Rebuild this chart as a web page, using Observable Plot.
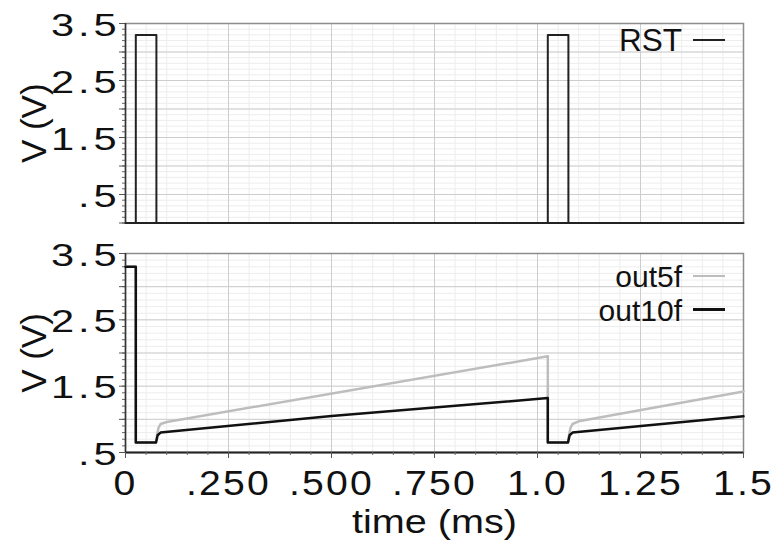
<!DOCTYPE html>
<html><head><meta charset="utf-8">
<script src="https://cdn.jsdelivr.net/npm/d3@7"></script>
<script src="https://cdn.jsdelivr.net/npm/@observablehq/plot@0.6"></script>
<style>
html,body{margin:0;padding:0;background:#fff;}
#wrap{position:relative;width:778px;height:544px;overflow:hidden;font-family:"Liberation Sans",Arial,sans-serif;}
#wrap svg{display:block;}
#wrap svg text{font-family:"Liberation Sans",Arial,sans-serif;}
.leg{position:absolute;white-space:nowrap;line-height:1;color:#111;text-align:right;}
.sw{position:absolute;}
</style></head><body><div id="wrap"></div>
<script>
// ---- data ----
const rstTime = [0, 0.025, 0.025, 0.075, 0.075, 1.025, 1.025, 1.075, 1.075, 1.5];
const rstVolt = [0, 0, 3.3, 3.3, 0, 0, 3.3, 3.3, 0, 0];

const out5fTime = [0, 0.025, 0.025, 0.074, 0.077, 0.08, 0.085, 0.1, 1.025, 1.025, 1.074, 1.077, 1.08, 1.085, 1.1, 1.5];
const out5fVolt = [3.3, 3.3, 0.65, 0.65, 0.78, 0.87, 0.93, 0.96, 1.95, 0.65, 0.65, 0.78, 0.87, 0.93, 0.97, 1.42];

const out10fTime = [0, 0.025, 0.025, 0.074, 0.078, 0.085, 0.5, 1.025, 1.025, 1.074, 1.078, 1.085, 1.5];
const out10fVolt = [3.3, 3.3, 0.65, 0.65, 0.76, 0.80, 1.05, 1.32, 0.65, 0.65, 0.76, 0.80, 1.045];

const xTickValues = [0, 0.25, 0.5, 0.75, 1.0, 1.25, 1.5];
const xTickLabels = ["0", ".250", ".500", ".750", "1.0", "1.25", "1.5"];
const yTickValues = [0.5, 1.5, 2.5, 3.5];
const yTickLabels = [".5", "1.5", "2.5", "3.5"];
const yLabel = "V (V)";
const xLabel = "time (ms)";
const legendTop = [{name: "RST", color: "#222"}];
const legendBottom = [{name: "out5f", color: "#bdbdbd"}, {name: "out10f", color: "#111"}];

// ---- tables for the library ----
const rst = rstTime.map((t, i) => ({t, v: rstVolt[i]}));
const out5f = out5fTime.map((t, i) => ({t, v: out5fVolt[i]}));
const out10f = out10fTime.map((t, i) => ({t, v: out10fVolt[i]}));

const font = '"Liberation Sans", Arial, sans-serif';
const minorX = d3.range(0, 1.5001, 0.05);
const majorX = xTickValues;

function gridAndAxes(y0, y1) {
  const minorY = d3.range(y0, y1 + 0.0001, 0.1).map(d => +d.toFixed(2));
  const majorY = d3.range(y0, y1 + 0.0001, 0.5).map(d => +d.toFixed(2));
  return [
    Plot.gridX(minorX, {stroke: "#ededed", strokeOpacity: 1, strokeWidth: 1}),
    Plot.gridY(minorY, {stroke: "#ededed", strokeOpacity: 1, strokeWidth: 1}),
    Plot.gridX(majorX, {stroke: "#cdcdcd", strokeOpacity: 1, strokeWidth: 1}),
    Plot.gridY(majorY, {stroke: "#cdcdcd", strokeOpacity: 1, strokeWidth: 1}),
    Plot.frame({stroke: "#8c8c8c", strokeWidth: 1.5}),
    Plot.axisY(minorY, {tickSize: 3, tickFormat: () => "", label: null, stroke: "#666"}),
    Plot.axisY(majorY, {tickSize: 6, tickFormat: () => "", label: null, stroke: "#555"}),
    Plot.axisY(yTickValues, {tickSize: 0, tickPadding: 5, fontSize: 32, label: null, dy: 2,
      tickFormat: d => yTickLabels[yTickValues.indexOf(d)]}),
    Plot.ruleX([0], {stroke: "#333", strokeWidth: 1.5}),
    Plot.ruleY([y0], {stroke: "#222", strokeWidth: 2}),
    Plot.text([yLabel], {frameAnchor: "left", rotate: -90, dx: -91, fontSize: 35, text: d => d,
      textAnchor: "middle", lineAnchor: "middle", fill: "#111"})
  ];
}

const topPlot = Plot.plot({
  width: 778, height: 230,
  marginLeft: 125, marginRight: 35, marginTop: 23, marginBottom: 7.5,
  style: {fontFamily: font, background: "transparent", color: "#111"},
  x: {domain: [0, 1.5], axis: null},
  y: {domain: [0, 3.5]},
  marks: [
    ...gridAndAxes(0, 3.5),
    Plot.line(rst, {x: "t", y: "v", stroke: legendTop[0].color, strokeWidth: 2})
  ]
});

const botPlot = Plot.plot({
  width: 778, height: 314,
  marginLeft: 125, marginRight: 35, marginTop: 23, marginBottom: 92,
  style: {fontFamily: font, background: "transparent", color: "#111"},
  x: {domain: [0, 1.5]},
  y: {domain: [0.5, 3.5]},
  marks: [
    ...gridAndAxes(0.5, 3.5),
    Plot.axisX(minorX, {tickSize: 3, tickFormat: () => "", label: null, stroke: "#666"}),
    Plot.axisX(majorX, {tickSize: 6, tickFormat: () => "", label: null, stroke: "#555"}),
    Plot.axisX(xTickValues, {tickSize: 0, tickPadding: 18, fontSize: 35, label: null,
      tickFormat: d => xTickLabels[xTickValues.indexOf(d)]}),
    Plot.text([xLabel], {frameAnchor: "bottom", dy: 70, fontSize: 33, text: d => d,
      textAnchor: "middle", lineAnchor: "middle", fill: "#111"}),
    Plot.line(out5f, {x: "t", y: "v", stroke: legendBottom[0].color, strokeWidth: 2.5}),
    Plot.line(out10f, {x: "t", y: "v", stroke: legendBottom[1].color, strokeWidth: 2.5})
  ]
});

function stretch(svg, sel, sx, ls) {
  svg.querySelectorAll(sel).forEach(t => {
    if (t.dataset.stretched || !t.textContent) return;
    t.dataset.stretched = "1";
    const x = parseFloat(t.getAttribute("x") || 0);
    const tr = t.getAttribute("transform") || "";
    t.setAttribute("transform", `${tr} translate(${x},0) scale(${sx},1) translate(${-x},0)`);
    if (ls) t.style.letterSpacing = ls + "px";
  });
}
stretch(topPlot, '[aria-label="y-axis tick label"] text', 1.3, 3);
stretch(botPlot, '[aria-label="y-axis tick label"] text', 1.3, 3);
stretch(botPlot, '[aria-label="x-axis tick label"] text', 1.12, 2);

const wrap = document.getElementById("wrap");
wrap.appendChild(topPlot);
wrap.appendChild(botPlot);

botPlot.querySelectorAll('text').forEach(t => {
  if (t.textContent === xLabel && !t.dataset.stretched) {
    t.dataset.stretched = "1";
    const x = parseFloat(t.getAttribute("x") || 0);
    const tr = t.getAttribute("transform") || "";
    t.setAttribute("transform", `${tr} translate(${x},0) scale(1.2,1) translate(${-x},0)`);
  }
});

// legends
function addLegend(item, textTop, fontSize, swTop, swH) {
  const d = document.createElement("div");
  d.className = "leg";
  d.style.right = "96px";
  d.style.top = textTop + "px";
  d.style.fontSize = fontSize + "px";
  d.textContent = item.name;
  wrap.appendChild(d);
  const s = document.createElement("div");
  s.className = "sw";
  s.style.left = "693px";
  s.style.width = "32px";
  s.style.top = swTop + "px";
  s.style.height = swH + "px";
  s.style.background = item.color;
  wrap.appendChild(s);
}
addLegend(legendTop[0], 25.3, 31.5, 39, 2);
addLegend(legendBottom[0], 261.6, 30, 275, 2);
addLegend(legendBottom[1], 295.6, 30, 308, 2.5);
</script></body></html>
